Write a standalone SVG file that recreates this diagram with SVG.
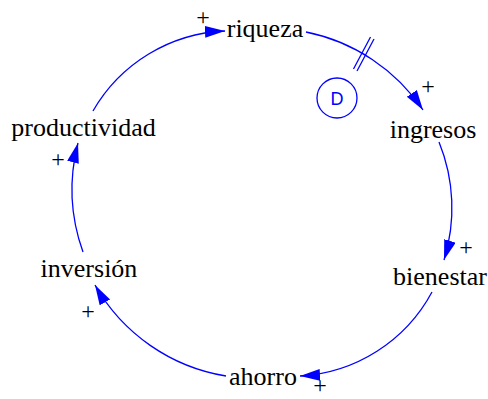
<svg xmlns="http://www.w3.org/2000/svg" width="488" height="399" viewBox="0 0 488 399">
<defs>
<marker id="arr" markerUnits="userSpaceOnUse" markerWidth="22" markerHeight="14" refX="20" refY="6" orient="auto">
<path d="M0,0 L20,6 L0,12 z" fill="#0000ff"/>
</marker>
</defs>
<rect width="488" height="399" fill="#fff"/>
<g id="connectors" fill="none" stroke="#0000ff" stroke-width="1.3">
<path d="M306,32 A185,185 0 0 1 423,110" marker-end="url(#arr)"/>
<path d="M439,142 A175,175 0 0 1 444,260" marker-end="url(#arr)"/>
<path d="M432,292 A160,160 0 0 1 300,376" marker-end="url(#arr)"/>
<path d="M226,376 A185,185 0 0 1 95,285" marker-end="url(#arr)"/>
<path d="M83,252 A185,185 0 0 1 78,143" marker-end="url(#arr)"/>
<path d="M93,111 A160,160 0 0 1 225,31" marker-end="url(#arr)"/>
<line x1="374" y1="39" x2="357" y2="71"/>
<line x1="370.5" y1="37" x2="353.5" y2="69"/>
</g>
<g id="delay-D">
<circle cx="337" cy="98" r="20" fill="none" stroke="#0000ff" stroke-width="1.3"/>
<text x="337" y="105" font-family="Liberation Sans" font-size="18" fill="#0000ff" text-anchor="middle">D</text>
</g>
<g id="riqueza"><text font-family="Liberation Serif" font-size="26" text-anchor="middle" x="265" y="37">riqueza</text><text font-family="Liberation Serif" font-size="24" text-anchor="middle" x="203" y="25">+</text></g>
<g id="ingresos"><text font-family="Liberation Serif" font-size="26" text-anchor="middle" x="433" y="138">ingresos</text><text font-family="Liberation Serif" font-size="24" text-anchor="middle" x="428" y="94">+</text></g>
<g id="bienestar"><text font-family="Liberation Serif" font-size="26" text-anchor="middle" x="440" y="285">bienestar</text><text font-family="Liberation Serif" font-size="24" text-anchor="middle" x="466" y="255">+</text></g>
<g id="ahorro"><text font-family="Liberation Serif" font-size="26" text-anchor="middle" x="263" y="385">ahorro</text><text font-family="Liberation Serif" font-size="24" text-anchor="middle" x="320" y="393">+</text></g>
<g id="inversion"><text font-family="Liberation Serif" font-size="26" text-anchor="middle" x="89" y="277">inversi&#243;n</text><text font-family="Liberation Serif" font-size="24" text-anchor="middle" x="88" y="319">+</text></g>
<g id="productividad"><text font-family="Liberation Serif" font-size="26" text-anchor="middle" x="83.5" y="136">productividad</text><text font-family="Liberation Serif" font-size="24" text-anchor="middle" x="58" y="167">+</text></g>
</svg>
